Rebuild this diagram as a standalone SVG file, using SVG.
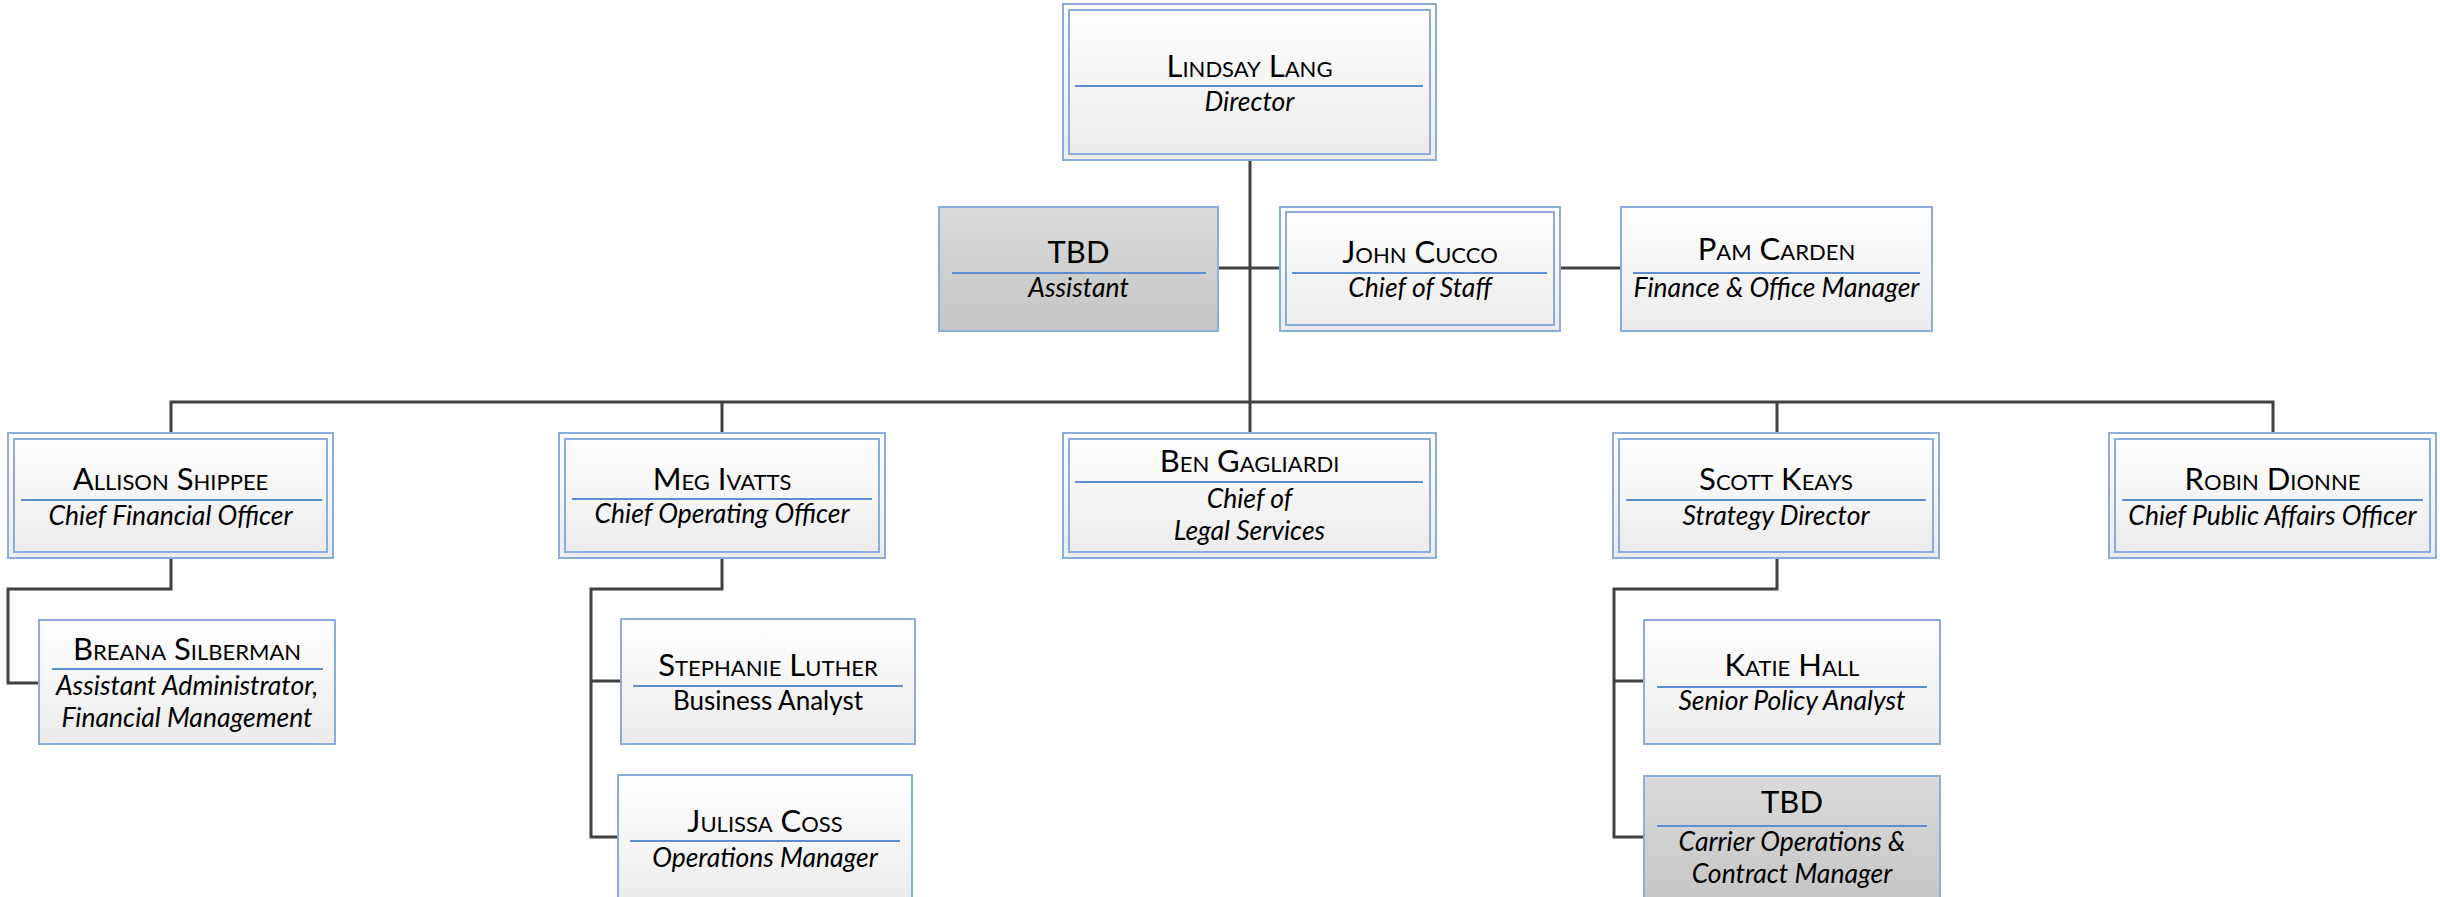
<svg xmlns="http://www.w3.org/2000/svg" width="2440" height="897" viewBox="0 0 2440 897">
<defs>
<linearGradient id="gw" x1="0" y1="0" x2="0" y2="1"><stop offset="0" stop-color="#ffffff"/><stop offset="1" stop-color="#ebebeb"/></linearGradient>
<linearGradient id="gg" x1="0" y1="0" x2="0" y2="1"><stop offset="0" stop-color="#dadada"/><stop offset="1" stop-color="#c5c5c5"/></linearGradient>
</defs>
<style>
.ob{fill:url(#gw);stroke:#8aaedb;stroke-width:2}
.obg{fill:url(#gg);stroke:#8aaedb;stroke-width:2}
.ib{fill:none;stroke:#8aaedb;stroke-width:2}
.dv{stroke:#5b8fd0;stroke-width:2}
.nm{font-family:Lato,"Open Sans",sans-serif;font-size:31px;font-variant:small-caps;fill:#000;text-anchor:middle}
.tt{font-family:Lato,"Open Sans",sans-serif;font-size:26.5px;font-style:italic;fill:#000;text-anchor:middle}
.tu{font-family:Lato,"Open Sans",sans-serif;font-size:26px;fill:#000;text-anchor:middle}
.cn{fill:none;stroke:#404040;stroke-width:3}
</style>
<g id="connectors">
<path class="cn" d="M1250 160V433"/>
<path class="cn" d="M1218 268H1280"/>
<path class="cn" d="M1560 268H1621"/>
<path class="cn" d="M171 433V402H2273V433"/>
<path class="cn" d="M722 402V433"/>
<path class="cn" d="M1777 402V433"/>
<path class="cn" d="M171 558V589H8V683H39"/>
<path class="cn" d="M722 558V589H591V837H618M591 681H621"/>
<path class="cn" d="M1777 558V589H1614V837H1644M1614 681H1644"/>
</g>
<g id="lindsay">
<rect class="ob" x="1063" y="4" width="373" height="156"/>
<rect class="ib" x="1069" y="10" width="361" height="144"/>
<line class="dv" x1="1075" y1="86" x2="1423" y2="86"/>
<text class="nm" x="1249.5" y="77">Lindsay Lang</text>
<text class="tt" x="1249.5" y="111">Director</text>
</g>
<g id="tbd-assistant">
<rect class="obg" x="939" y="207" width="279" height="124"/>
<line class="dv" x1="952" y1="273" x2="1206" y2="273"/>
<text class="nm" x="1078.5" y="263">TBD</text>
<text class="tt" x="1078.5" y="297">Assistant</text>
</g>
<g id="john">
<rect class="ob" x="1280" y="207" width="280" height="124"/>
<rect class="ib" x="1286" y="212" width="268" height="113"/>
<line class="dv" x1="1292" y1="273" x2="1547" y2="273"/>
<text class="nm" x="1420" y="263">John Cucco</text>
<text class="tt" x="1420" y="297">Chief of Staff</text>
</g>
<g id="pam">
<rect class="ob" x="1621" y="207" width="311" height="124"/>
<line class="dv" x1="1633" y1="273" x2="1920" y2="273"/>
<text class="nm" x="1776.5" y="260">Pam Carden</text>
<text class="tt" x="1776.5" y="297">Finance &amp; Office Manager</text>
</g>
<g id="allison">
<rect class="ob" x="8" y="433" width="325" height="125"/>
<rect class="ib" x="14" y="439" width="313" height="113"/>
<line class="dv" x1="21" y1="500" x2="322" y2="500"/>
<text class="nm" x="170.5" y="490">Allison Shippee</text>
<text class="tt" x="170.5" y="525">Chief Financial Officer</text>
</g>
<g id="meg">
<rect class="ob" x="559" y="433" width="326" height="125"/>
<rect class="ib" x="565" y="439" width="314" height="113"/>
<line class="dv" x1="572" y1="499" x2="872" y2="499"/>
<text class="nm" x="722" y="490">Meg Ivatts</text>
<text class="tt" x="722" y="523">Chief Operating Officer</text>
</g>
<g id="ben">
<rect class="ob" x="1063" y="433" width="373" height="125"/>
<rect class="ib" x="1069" y="439" width="361" height="113"/>
<line class="dv" x1="1075" y1="482" x2="1423" y2="482"/>
<text class="nm" x="1249.5" y="472">Ben Gagliardi</text>
<text class="tt" x="1249.5" y="508">Chief of</text>
<text class="tt" x="1249.5" y="540">Legal Services</text>
</g>
<g id="scott">
<rect class="ob" x="1613" y="433" width="326" height="125"/>
<rect class="ib" x="1619" y="439" width="314" height="113"/>
<line class="dv" x1="1626" y1="500" x2="1926" y2="500"/>
<text class="nm" x="1776" y="490">Scott Keays</text>
<text class="tt" x="1776" y="525">Strategy Director</text>
</g>
<g id="robin">
<rect class="ob" x="2109" y="433" width="327" height="125"/>
<rect class="ib" x="2115" y="439" width="315" height="113"/>
<line class="dv" x1="2122" y1="500" x2="2423" y2="500"/>
<text class="nm" x="2272.5" y="490">Robin Dionne</text>
<text class="tt" x="2272.5" y="525">Chief Public Affairs Officer</text>
</g>
<g id="breana">
<rect class="ob" x="39" y="620" width="296" height="124"/>
<line class="dv" x1="52" y1="669" x2="323" y2="669"/>
<text class="nm" x="187" y="660">Breana Silberman</text>
<text class="tt" x="187" y="695">Assistant Administrator,</text>
<text class="tt" x="187" y="727">Financial Management</text>
</g>
<g id="stephanie">
<rect class="ob" x="621" y="619" width="294" height="125"/>
<line class="dv" x1="633" y1="686" x2="903" y2="686"/>
<text class="nm" x="768" y="676">Stephanie Luther</text>
<text class="tu" x="768" y="710">Business Analyst</text>
</g>
<g id="julissa">
<rect class="ob" x="618" y="775" width="294" height="130"/>
<line class="dv" x1="630" y1="841" x2="900" y2="841"/>
<text class="nm" x="765" y="832">Julissa Coss</text>
<text class="tt" x="765" y="867">Operations Manager</text>
</g>
<g id="katie">
<rect class="ob" x="1644" y="620" width="296" height="124"/>
<line class="dv" x1="1657" y1="687" x2="1927" y2="687"/>
<text class="nm" x="1792" y="676">Katie Hall</text>
<text class="tt" x="1792" y="710">Senior Policy Analyst</text>
</g>
<g id="tbd-carrier">
<rect class="obg" x="1644" y="776" width="296" height="130"/>
<line class="dv" x1="1657" y1="826" x2="1927" y2="826"/>
<text class="nm" x="1792" y="813">TBD</text>
<text class="tt" x="1792" y="851">Carrier Operations &amp;</text>
<text class="tt" x="1792" y="883">Contract Manager</text>
</g>
</svg>
